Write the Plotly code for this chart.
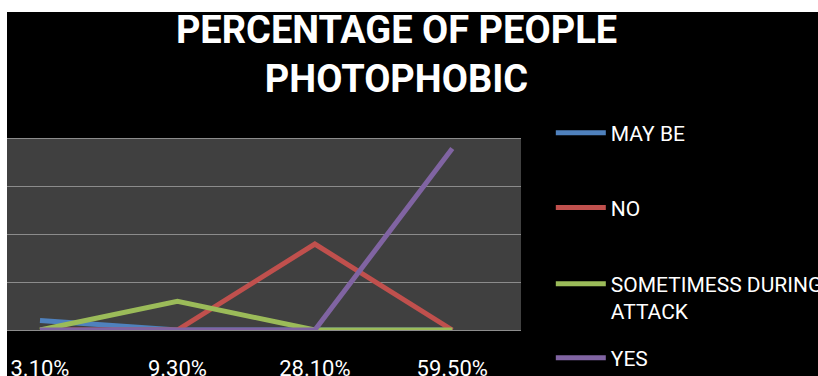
import plotly.graph_objects as go

# Response categories (x axis) and head-counts per answer
categories = ["3.10%", "9.30%", "28.10%", "59.50%"]
may_be = [2, 0, 0, 0]
no = [0, 0, 18, 0]
sometimes = [0, 6, 0, 0]
yes = [0, 0, 0, 38]

series = [
    ("MAY BE", may_be, "#4F81BD", "legend", 1.031, "middle"),
    ("NO", no, "#C0504D", "legend2", 0.639, "middle"),
    ("SOMETIMESS DURING<br>ATTACK", sometimes, "#9BBB59", "legend3", 0.170, "top"),
    ("YES", yes, "#8064A2", "legend4", -0.147, "middle"),
]

fig = go.Figure()
for name, vals, color, leg, _, _ in series:
    fig.add_trace(go.Scatter(
        x=categories, y=vals, name=name, mode="lines",
        line=dict(color=color, width=5),
        legend=leg, showlegend=True,
    ))

legend_font = dict(family="Roboto", size=21, color="white")
legend_layouts = {}
for name, vals, color, leg, ypos, valign in series:
    legend_layouts[leg] = dict(
        x=1.058, xanchor="left", y=ypos, yanchor="middle",
        font=legend_font, bgcolor="rgba(0,0,0,0)", borderwidth=0,
        itemwidth=50, valign=valign, visible=True,
    )

fig.update_layout(
    width=818, height=376,
    showlegend=True,
    margin=dict(l=7, r=297, t=139, b=46, autoexpand=False),
    paper_bgcolor="black",
    plot_bgcolor="#404040",
    title=dict(
        text="PERCENTAGE OF PEOPLE<br>PHOTOPHOBIC",
        x=0.4847, xref="container", xanchor="center",
        y=0.886, yref="container", yanchor="middle",
        font=dict(family="Roboto", size=38, color="white", weight="bold"),
    ),
    xaxis=dict(
        type="category", categoryorder="array", categoryarray=categories,
        range=[-0.24, 3.5], showgrid=False, zeroline=False,
        # bottom and top frame lines double as the 0 and 40 gridlines
        showline=True, mirror=True, linecolor="#8c8c8c", linewidth=1,
        ticks="", ticklabelstandoff=19,
        tickfont=dict(family="Roboto", size=22, color="white"),
    ),
    yaxis=dict(
        range=[0, 40], dtick=10, showgrid=True, gridcolor="#8c8c8c", gridwidth=1,
        zeroline=False, showline=False, showticklabels=False, ticks="",
    ),
    **legend_layouts,
    shapes=[
        # white border strips along the top and left edges of the canvas
        dict(type="rect", xref="paper", yref="paper", x0=-0.1, x1=0, y0=-1, y1=3,
             fillcolor="white", line=dict(width=0), layer="below"),
        dict(type="rect", xref="paper", yref="paper", x0=-0.1, x1=2, y0=1.665, y1=3,
             fillcolor="white", line=dict(width=0), layer="below"),
    ],
)

fig.write_html("out.html")
